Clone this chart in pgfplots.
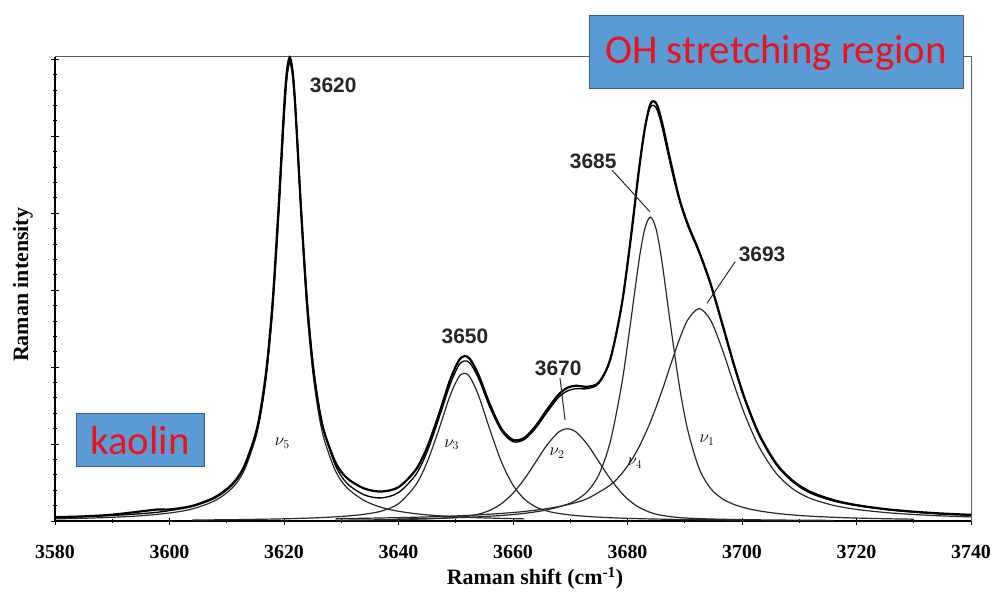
\documentclass[border=0pt]{standalone}
\usepackage{pgfplots}
\pgfplotsset{compat=1.18}
\usepackage{pgfplotstable}
\usepackage{fontspec}
\setmainfont{Liberation Serif}
\newfontfamily\arial{Liberation Sans}
\newfontfamily\calibri{Carlito}
\definecolor{boxblue}{RGB}{91,155,213}
\definecolor{boxedge}{RGB}{60,95,135}
\definecolor{txtred}{RGB}{235,18,28}
\definecolor{curve}{RGB}{40,40,40}

\pgfplotstableread{
x y
3580 0.0276
3585 0.0358
3590 0.0481
3595 0.0682
3600 0.104
3604 0.157
3608 0.2665
3611 0.4325
3613 0.649
3615 1.064
3616 1.420
3617 1.957
3618 2.770
3619 3.940
3620 5.277
3620.5 5.766
3621 5.95
3621.5 5.766
3622 5.277
3623 3.940
3624 2.770
3625 1.957
3626 1.420
3627 1.064
3629 0.649
3631 0.4325
3634 0.2665
3637 0.1768
3640 0.1265
3643 0.0949
3645 0.0799
3647 0.0682
3649 0.0589
3651.5 0.0497
3654 0.0425
3658 0.0339
3662 0.0276
}\nufive

\pgfplotstableread{
x y
3604 0.0127
3608 0.0151
3613 0.0192
3618 0.0252
3621 0.0302
3624 0.0369
3627 0.0461
3629 0.0541
3631 0.0646
3634 0.0872
3637 0.1285
3640 0.225
3643 0.4667
3645 0.765
3647 1.1787
3649 1.6276
3650.5 1.8676
3651.5 1.92
3652.5 1.8676
3654 1.6276
3656 1.1787
3658 0.765
3660 0.4667
3662 0.2835
3664 0.1825
3666 0.1285
3668 0.0979
3671 0.0708
3675 0.0498
3679 0.0369
3684 0.0267
3690.5 0.0187
3700.5 0.0119
}\nuthree

\pgfplotstableread{
x y
3629 0.0104
3634 0.0135
3640 0.0192
3645 0.0274
3649 0.0398
3651.5 0.0559
3654 0.0891
3656 0.1401
3658 0.2267
3660 0.361
3662 0.5467
3664 0.7702
3666 0.9944
3668 1.1579
3669.5 1.2
3671 1.1579
3673 0.9944
3675 0.7702
3677 0.5467
3679 0.361
3680.5 0.2554
3682 0.178
3684 0.1109
3686 0.0728
3689 0.0450
3692.5 0.0310
3696.5 0.0227
3700.5 0.0175
3706 0.0128
3712 0.0095
3716 0.0080
}\nutwo

\pgfplotstableread{
x y
3640 0.0256
3645 0.0325
3650.5 0.0439
3654 0.0544
3658 0.0719
3662 0.0993
3666 0.1453
3669.5 0.2183
3671 0.2699
3673 0.3828
3675 0.6021
3677 1.0321
3679 1.783
3680.5 2.5588
3682 3.3792
3683 3.7922
3684 3.95
3685 3.7922
3686 3.3792
3687.5 2.5588
3689 1.783
3690.5 1.1868
3692.5 0.685
3694.5 0.4243
3696.5 0.2922
3698.5 0.2183
3700.5 0.1711
3703 0.1313
3706 0.0993
3709 0.0776
3712 0.0623
3716 0.0480
3720 0.0381
3725 0.0295
3730 0.0235
}\nufour

\pgfplotstableread{
x y
3629 0.0302
3634 0.0355
3640 0.0438
3645 0.0533
3650.5 0.0676
3654 0.0800
3658 0.0986
3662 0.1243
3666 0.1618
3669.5 0.2112
3673 0.2919
3677 0.4677
3679 0.6171
3680.5 0.7685
3682 0.9605
3684 1.2861
3686 1.6876
3687.5 2.0209
3689 2.3466
3690.5 2.6113
3692.5 2.76
3694.5 2.6113
3696.5 2.2419
3698.5 1.7971
3700.5 1.38
3703 0.9605
3706 0.6171
3709 0.4111
3712 0.2919
3716 0.2028
3720 0.1509
3725 0.1104
3730 0.0841
3735 0.0661
3740 0.0533
}\nuone

\pgfplotstableread{
x obs fit
3580 0.050 0.048
3585 0.060 0.058
3590 0.082 0.072
3595 0.125 0.095
3598 0.150 0.115
3600 0.150 0.135
3604 0.197 0.190
3608 0.312 0.300
3611 0.483 0.470
3613 0.703 0.690
3615 1.122 1.100
3616 1.480 1.430
3617 2.020 1.950
3618 2.835 2.740
3619 4.008 3.880
3620 5.348 5.220
3620.5 5.839 5.750
3621 6.024 5.990
3621.5 5.842 5.850
3622 5.355 5.380
3623 4.021 4.070
3624 2.855 2.910
3625 2.047 2.090
3626 1.514 1.540
3627 1.163 1.170
3629 0.760 0.720
3631 0.558 0.490
3634 0.423 0.340
3637 0.383 0.300
3640 0.440 0.370
3643 0.664 0.600
3645 0.958 0.900
3647 1.373 1.320
3649 1.830 1.770
3650.5 2.080 2.020
3651.5 2.143 2.080
3652.5 2.104 2.050
3654 1.894 1.850
3656 1.507 1.470
3658 1.196 1.170
3660 1.053 1.030
3662 1.081 1.060
3664 1.238 1.210
3666 1.453 1.420
3668 1.645 1.610
3669.5 1.732 1.690
3671 1.758 1.720
3673 1.745 1.720
3675 1.802 1.790
3677 2.104 2.100
3679 2.812 2.820
3680.5 3.629 3.650
3682 4.560 4.580
3683 5.086 5.100
3684 5.420 5.380
3685 5.430 5.370
3686 5.190 5.130
3687.5 4.680 4.630
3689 4.205 4.180
3690.5 3.864 3.840
3692.5 3.502 3.490
3694.5 3.086 3.070
3696.5 2.579 2.560
3698.5 2.056 2.040
3700.5 1.588 1.570
3703 1.125 1.110
3706 0.745 0.730
3709 0.514 0.500
3712 0.377 0.360
3716 0.271 0.260
3720 0.207 0.200
3725 0.155 0.150
3730 0.121 0.115
3735 0.097 0.090
3740 0.080 0.075
}\total

\begin{document}
\begin{tikzpicture}
\begin{axis}[
  width=916bp, height=464bp, scale only axis,
  xmin=3580, xmax=3740, ymin=0, ymax=6.03,
  clip=false,
  axis line style={draw=none},
  xtick={3580,3600,...,3740},
  minor xtick={3590,3610,...,3730},
  ytick={0,1,...,6},
  minor y tick num=4,
  yticklabels={},
  tick pos=left,
  tick align=center,
  major tick length=7bp, minor tick length=4bp,
  every tick/.style={black, line width=0.8bp},
  xticklabel style={font=\bfseries\fontsize{20}{20}\selectfont, yshift=-17bp},
  /pgf/number format/assume math mode=true,
  /pgf/number format/1000 sep={},
  xlabel={Raman shift (cm\textsuperscript{-1})},
  xlabel style={font=\bfseries\fontsize{22}{22}\selectfont, at={(axis description cs:0.524,-0.123)}, anchor=center},
  ylabel={Raman intensity},
  ylabel style={font=\bfseries\fontsize{22}{22}\selectfont, at={(axis description cs:-0.035,0.509)}, anchor=center},
]
\draw[black, line width=1.8bp] (rel axis cs:0,0) -- (rel axis cs:1,0);
\draw[black, line width=1.3bp] (rel axis cs:0,0) -- (rel axis cs:0,1);
\draw[black!65, line width=1bp] (rel axis cs:0,1) -- (rel axis cs:1,1) -- (rel axis cs:1,0);

\addplot[curve, line width=1.2bp, smooth] table {\nufive};
\addplot[curve, line width=1.2bp, smooth] table {\nuthree};
\addplot[curve, line width=1.2bp, smooth] table {\nutwo};
\addplot[curve, line width=1.2bp, smooth] table {\nufour};
\addplot[curve, line width=1.2bp, smooth] table {\nuone};
\addplot[black, line width=1.3bp, smooth] table[x=x, y=fit] {\total};
\addplot[black, line width=2.2bp, smooth] table[x=x, y=obs] {\total};

\node[font=\arial\bfseries\fontsize{21}{21}\selectfont, text=black!85] at (axis cs:3628.6,5.66) {3620};
\node[font=\arial\bfseries\fontsize{21}{21}\selectfont, text=black!85] at (axis cs:3651.6,2.40) {3650};
\node[font=\arial\bfseries\fontsize{21}{21}\selectfont, text=black!85] at (axis cs:3667.9,1.99) {3670};
\node[font=\arial\bfseries\fontsize{21}{21}\selectfont, text=black!85] at (axis cs:3674.0,4.67) {3685};
\node[font=\arial\bfseries\fontsize{21}{21}\selectfont, text=black!85] at (axis cs:3703.5,3.47) {3693};
\draw[curve, line width=1bp] (axis cs:3668.2,1.86) -- (axis cs:3669.1,1.31);
\draw[curve, line width=1bp] (axis cs:3677.3,4.56) -- (axis cs:3683.9,4.02);
\draw[curve, line width=1bp] (axis cs:3698.8,3.37) -- (axis cs:3693.9,2.83);

\node[font=\fontsize{18}{18}\selectfont] at (axis cs:3619.7,1.01) {$\nu_5$};
\node[font=\fontsize{18}{18}\selectfont] at (axis cs:3649.3,0.99) {$\nu_3$};
\node[font=\fontsize{18}{18}\selectfont] at (axis cs:3667.7,0.88) {$\nu_2$};
\node[font=\fontsize{18}{18}\selectfont] at (axis cs:3681.3,0.75) {$\nu_4$};
\node[font=\fontsize{18}{18}\selectfont] at (axis cs:3693.9,1.05) {$\nu_1$};

\coordinate (O) at (rel axis cs:0,0);
\end{axis}
\node[draw=boxedge, line width=1bp, fill=boxblue, minimum width=374bp, minimum height=73bp, inner sep=0pt, font=\calibri\fontsize{41}{41}\selectfont, text=txtred] at ([shift={(721bp,468.5bp)}]O) {OH stretching region};
\node[draw=boxedge, line width=1bp, fill=boxblue, minimum width=128bp, minimum height=53bp, inner sep=0pt, font=\calibri\fontsize{41}{41}\selectfont, text=txtred] at ([shift={(85bp,80.5bp)}]O) {kaolin};
\pgfresetboundingbox
\path ([shift={(-55bp,-71bp)}]O) rectangle ([shift={(939bp,521bp)}]O);
\end{tikzpicture}
\end{document}
